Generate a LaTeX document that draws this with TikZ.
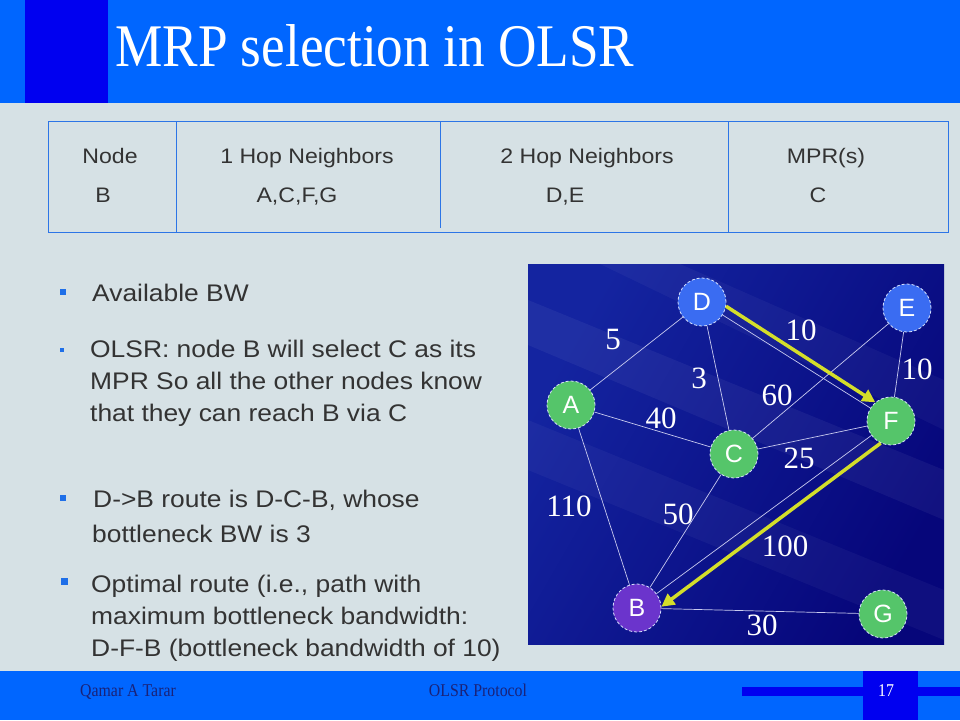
\documentclass[tikz,border=0pt]{standalone}
\usepackage{fontspec}
\setmainfont{Liberation Serif}
\setsansfont{Liberation Sans}
\newfontfamily\wideSans[FakeStretch=1.1]{Liberation Sans}
\newfontfamily\narrowSerif[FakeStretch=0.88]{Liberation Serif}
\usepackage{xcolor}
\definecolor{slideBg}{HTML}{D6E1E5}
\definecolor{barBlue}{HTML}{0066FF}
\definecolor{darkBlue}{HTML}{0000F0}
\definecolor{tableLine}{HTML}{2D75E6}
\definecolor{bodyText}{HTML}{333333}
\definecolor{bulletBlue}{HTML}{1F6FE8}
\definecolor{netNavy}{HTML}{06067A}
\definecolor{netLight}{HTML}{1424A0}
\definecolor{nodeGreen}{HTML}{55C56A}
\definecolor{nodeBlue}{HTML}{3A6CF2}
\definecolor{nodePurple}{HTML}{6B34CC}
\definecolor{linkLine}{HTML}{C9CBEF}
\definecolor{pathYellow}{HTML}{D4DE2A}
\definecolor{footText}{HTML}{1A2278}
\usetikzlibrary{arrows.meta}

\begin{document}
\begin{tikzpicture}[x=1pt, y=-1pt,
  bodyline/.style={anchor=base west, inner sep=0pt, text=bodyText,
    font=\wideSans\fontsize{24}{28}\selectfont},
  cell/.style={anchor=base, inner sep=0pt, text=bodyText,
    font=\wideSans\fontsize{21}{24}\selectfont},
  station/.style={circle, minimum size=48pt, inner sep=0pt,
    draw=white!80!nodeBlue, densely dashed, line width=0.8pt, text=white,
    font=\sffamily\fontsize{25}{26}\selectfont},
  link/.style={draw=linkLine, line width=0.7pt},
  weight/.style={text=white, inner sep=0pt, font=\fontsize{31}{32}\selectfont},
  route/.style={draw=pathYellow, line width=3.5pt,
    -{Triangle[length=13pt,width=13pt]}},
  footnote/.style={anchor=base, inner sep=0pt, text=footText,
    font=\narrowSerif\fontsize{18}{20}\selectfont},
  bulletbox/.style={fill=bulletBlue}]
  \useasboundingbox (0,0) rectangle (960,720);
  \fill[slideBg] (0,0) rectangle (960,720);

  % title bar
  \fill[barBlue] (0,0) rectangle (960,103);
  \fill[darkBlue] (25,0) rectangle (108,103);
  \node[anchor=base west, inner sep=0pt, text=white,
    font=\narrowSerif\fontsize{60.5}{64}\selectfont] (title) at (115,66) {MRP selection in OLSR};

  % table
  \draw[tableLine, line width=0.8pt] (48,121) rectangle (948,232);
  \draw[tableLine, line width=0.6pt] (176,121) -- (176,232);
  \draw[tableLine, line width=0.6pt] (440,121) -- (440,228);
  \draw[tableLine, line width=0.6pt] (728,121) -- (728,232);
  \node[cell] (hNode) at (110,163) {Node};
  \node[cell] (hOne) at (307,163) {1 Hop Neighbors};
  \node[cell] (hTwo) at (587,163) {2 Hop Neighbors};
  \node[cell] (hMpr) at (826,163) {MPR(s)};
  \node[cell] (vNode) at (103,202) {B};
  \node[cell] (vOne) at (297,202) {A,C,F,G};
  \node[cell] (vTwo) at (565,202) {D,E};
  \node[cell] (vMpr) at (818,202) {C};

  % bullets
  \fill[bulletbox] (60,289) rectangle (66,295);
  \node[bodyline] (bw) at (92,301) {Available BW};
  \fill[bulletbox] (60,348) rectangle (64,352);
  \node[bodyline] (olsrA) at (90,357) {OLSR: node B will select C as its};
  \node[bodyline] (olsrB) at (90,389) {MPR So all the other nodes know};
  \node[bodyline] (olsrC) at (90,421) {that they can reach B via C};
  \fill[bulletbox] (60,495) rectangle (66,501);
  \node[bodyline] (dcbA) at (93,507) {D->B route is D-C-B, whose};
  \node[bodyline] (dcbB) at (92,542) {bottleneck BW is 3};
  \fill[bulletbox] (61,578) rectangle (68,585);
  \node[bodyline] (optA) at (91,592) {Optimal route (i.e., path with};
  \node[bodyline] (optB) at (91,624) {maximum bottleneck bandwidth:};
  \node[bodyline] (optC) at (91,656) {D-F-B (bottleneck bandwidth of 10)};

  % network panel
  \begin{scope}
    \clip (528,264) rectangle (944,644);
    \shade[left color=netLight, right color=netNavy, shading angle=60]
      (528,264) rectangle (944,644);
    \fill[white, opacity=0.05] (528,300) -- (528,345) -- (944,520) -- (944,470) -- cycle;
    \fill[white, opacity=0.04] (528,420) -- (528,470) -- (944,640) -- (944,590) -- cycle;
    \fill[white, opacity=0.04] (600,264) -- (680,264) -- (944,380) -- (944,430) -- cycle;
  \end{scope}

  \node[station, fill=nodeBlue] (D) at (702,302) {D};
  \node[station, fill=nodeBlue] (E) at (907,308) {E};
  \node[station, fill=nodeGreen] (A) at (571,405) {A};
  \node[station, fill=nodeGreen] (F) at (891,421) {F};
  \node[station, fill=nodeGreen] (C) at (734,454) {C};
  \node[station, fill=nodePurple] (B) at (637,608) {B};
  \node[station, fill=nodeGreen] (G) at (883,614) {G};

  \draw[link] (A) -- (D);
  \draw[link] (A) -- (C);
  \draw[link] (A) -- (B);
  \draw[link] (D) -- (C);
  \draw[link] (D) -- (F);
  \draw[link] (E) -- (C);
  \draw[link] (E) -- (F);
  \draw[link] (C) -- (F);
  \draw[link] (C) -- (B);
  \draw[link] (F) -- (B);
  \draw[link] (B) -- (G);

  \draw[route] (D.-10) -- (F.130);
  \draw[route] (F.-115) -- (B.3);

  \node[weight] (wAD) at (613,339) {5};
  \node[weight] (wDF) at (801,330) {10};
  \node[weight] (wEF) at (917,369) {10};
  \node[weight] (wDC) at (699,378) {3};
  \node[weight] (wEC) at (777,395) {60};
  \node[weight] (wAC) at (661,418) {40};
  \node[weight] (wCF) at (799,458) {25};
  \node[weight] (wAB) at (569,506) {110};
  \node[weight] (wCB) at (678,514) {50};
  \node[weight] (wFB) at (785,546) {100};
  \node[weight] (wBG) at (762,625) {30};

  % footer
  \fill[barBlue] (0,671) rectangle (960,720);
  \fill[darkBlue] (742,687) rectangle (960,696);
  \fill[darkBlue] (863,671) rectangle (918,720);
  \node[footnote, anchor=base west] (author) at (80,696) {Qamar A Tarar};
  \node[footnote] (topic) at (478,696) {OLSR Protocol};
  \node[footnote, text=white] (page) at (886,696) {17};
\end{tikzpicture}
\end{document}
